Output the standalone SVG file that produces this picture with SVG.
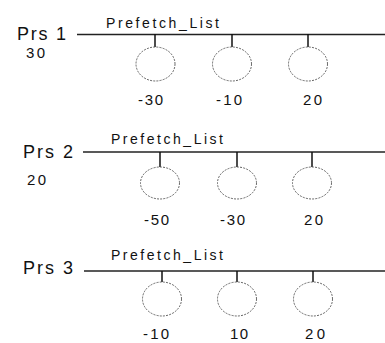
<svg xmlns="http://www.w3.org/2000/svg" width="385" height="343" viewBox="0 0 385 343">
<style>
.bg{fill:#fff}
.prs{font-family:"Liberation Sans",Arial,sans-serif;font-size:18px;fill:#111}
.val{font-family:"Liberation Sans",Arial,sans-serif;font-size:15px;fill:#111}
.lst{font-family:"Liberation Sans",Arial,sans-serif;font-size:14px;fill:#111}
.bus{stroke:#222;stroke-width:1.5;fill:none}
.stem{stroke:#111;stroke-width:1.5;fill:none}
.node{fill:#fff;stroke:#555;stroke-width:0.9;stroke-dasharray:2 1.2}
</style>
<rect class="bg" x="0" y="0" width="385" height="343"/>
<g id="row1">
<text class="prs" x="17" y="40" textLength="49" lengthAdjust="spacing">Prs 1</text>
<text class="val" x="26" y="58" textLength="19" lengthAdjust="spacing">30</text>
<text class="lst" x="106" y="28" textLength="113" lengthAdjust="spacing">Prefetch_List</text>
</g>
<g id="row2">
<text class="prs" x="23" y="158" textLength="50" lengthAdjust="spacing">Prs 2</text>
<text class="val" x="27" y="185" textLength="19" lengthAdjust="spacing">20</text>
<text class="lst" x="111" y="144" textLength="112" lengthAdjust="spacing">Prefetch_List</text>
</g>
<g id="row3">
<text class="prs" x="23" y="274" textLength="50" lengthAdjust="spacing">Prs 3</text>
<text class="lst" x="111" y="260" textLength="112" lengthAdjust="spacing">Prefetch_List</text>
</g>
<g id="connectors">
<line class="bus" x1="77" y1="34.5" x2="385" y2="34.5"/>
<line class="bus" x1="83" y1="152" x2="385" y2="152"/>
<line class="bus" x1="84" y1="271" x2="385" y2="271"/>
<line class="stem" x1="155" y1="34" x2="155" y2="47"/>
<line class="stem" x1="232" y1="34" x2="232" y2="47"/>
<line class="stem" x1="308" y1="34" x2="308" y2="47"/>
<line class="stem" x1="160" y1="152" x2="160" y2="167"/>
<line class="stem" x1="237" y1="152" x2="237" y2="167"/>
<line class="stem" x1="312" y1="152" x2="312" y2="167"/>
<line class="stem" x1="162" y1="271" x2="162" y2="282"/>
<line class="stem" x1="237" y1="271" x2="237" y2="282"/>
<line class="stem" x1="313" y1="271" x2="313" y2="282"/>
</g>
<g id="n1a"><ellipse class="node" cx="155.5" cy="64" rx="19.5" ry="17"/><text class="val" x="138" y="105" textLength="25" lengthAdjust="spacing">-30</text></g>
<g id="n1b"><ellipse class="node" cx="232" cy="64" rx="19.5" ry="17"/><text class="val" x="216" y="105" textLength="26" lengthAdjust="spacing">-10</text></g>
<g id="n1c"><ellipse class="node" cx="308" cy="64" rx="19.5" ry="17"/><text class="val" x="303" y="105" textLength="19" lengthAdjust="spacing">20</text></g>
<g id="n2a"><ellipse class="node" cx="160" cy="183" rx="19.5" ry="16"/><text class="val" x="144" y="225" textLength="25" lengthAdjust="spacing">-50</text></g>
<g id="n2b"><ellipse class="node" cx="237" cy="183" rx="19.5" ry="16"/><text class="val" x="220" y="225" textLength="25" lengthAdjust="spacing">-30</text></g>
<g id="n2c"><ellipse class="node" cx="312" cy="183" rx="19.5" ry="16"/><text class="val" x="304" y="225" textLength="19" lengthAdjust="spacing">20</text></g>
<g id="n3a"><ellipse class="node" cx="162" cy="299" rx="19.5" ry="17"/><text class="val" x="143" y="339" textLength="26" lengthAdjust="spacing">-10</text></g>
<g id="n3b"><ellipse class="node" cx="237" cy="299" rx="19.5" ry="17"/><text class="val" x="230" y="339" textLength="18" lengthAdjust="spacing">10</text></g>
<g id="n3c"><ellipse class="node" cx="313" cy="299" rx="19.5" ry="17"/><text class="val" x="305" y="339" textLength="20" lengthAdjust="spacing">20</text></g>
</svg>
